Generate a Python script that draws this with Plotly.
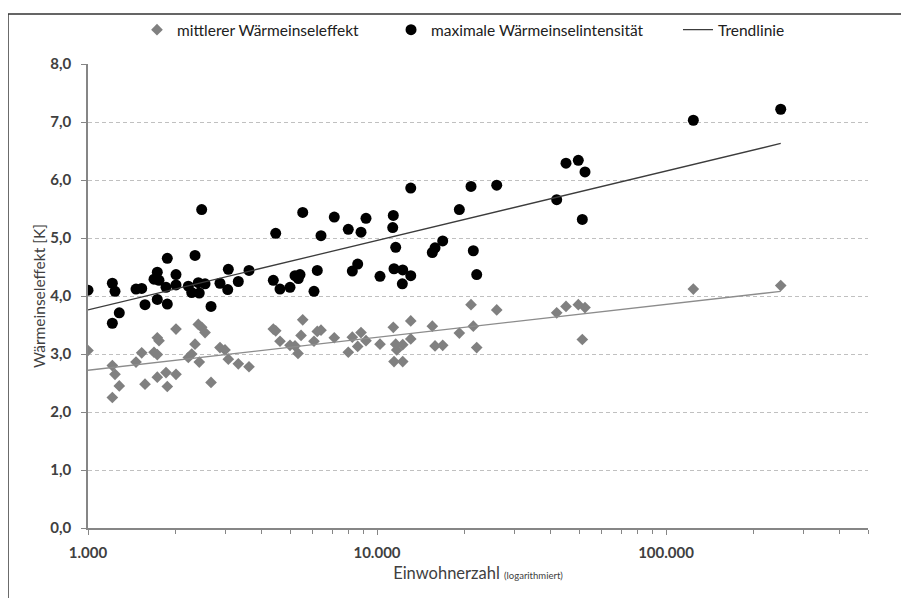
import plotly.graph_objects as go

# ---- data ----
max_x = [1000, 1214, 1240, 1214, 1283, 1466, 1534, 1575, 1692, 1737, 1761, 1737, 1862, 1881, 1881,
         2016, 2016, 2224, 2285, 2346, 2408, 2427, 2474, 2541, 2665, 2862, 3044, 3059, 3312, 3607,
         4377, 4462, 4617, 5000, 5204, 5342, 5415, 5533, 6053, 6214, 6401, 7115, 7955, 8214, 8575,
         8804, 9161, 10242, 11334, 11388, 11452, 11608, 12236, 12275, 13085, 13085, 15539, 15878,
         16880, 19270, 21150, 21540, 22130, 25960, 41860, 45080, 49720, 51340, 52450, 124330, 249450]
max_y = [4.10, 4.22, 4.08, 3.53, 3.71, 4.12, 4.13, 3.85, 4.29, 4.41, 4.27, 3.94, 4.15, 4.65, 3.86,
         4.37, 4.19, 4.17, 4.06, 4.70, 4.23, 4.05, 5.49, 4.21, 3.82, 4.22, 4.11, 4.46, 4.25, 4.44,
         4.27, 5.08, 4.12, 4.15, 4.35, 4.30, 4.37, 5.44, 4.08, 4.44, 5.04, 5.36, 5.15, 4.43, 4.55,
         5.10, 5.34, 4.34, 5.18, 5.39, 4.47, 4.84, 4.21, 4.45, 4.35, 5.86, 4.75, 4.83,
         4.95, 5.49, 5.89, 4.78, 4.37, 5.91, 5.66, 6.29, 6.34, 5.32, 6.14, 7.03, 7.22]

mean_x = [1000, 1214, 1240, 1283, 1214, 1466, 1534, 1575, 1692, 1737, 1761, 1737, 1737, 1862, 1881,
          2016, 2016, 2224, 2285, 2346, 2408, 2427, 2474, 2541, 2665, 2862, 2979, 3059, 3312, 3607,
          4377, 4462, 4617, 5000, 5204, 5330, 5460, 5533, 6053, 6214, 6401, 7115, 7955, 8214, 8575,
          8804, 9161, 10242, 11388, 11452, 11608, 11702, 12275, 12275, 13085, 13085, 15539, 15878,
          16880, 19270, 21150, 21540, 22130, 25960, 41860, 45080, 49720, 51340, 52450, 124330, 249450]
mean_y = [3.06, 2.80, 2.65, 2.45, 2.25, 2.86, 3.02, 2.48, 3.03, 3.28, 3.23, 2.99, 2.60, 2.68, 2.44,
          3.43, 2.65, 2.94, 3.00, 3.17, 3.51, 2.86, 3.46, 3.37, 2.51, 3.11, 3.07, 2.91, 2.83, 2.78,
          3.43, 3.40, 3.22, 3.15, 3.14, 3.01, 3.32, 3.59, 3.22, 3.39, 3.41, 3.28, 3.03, 3.29, 3.13,
          3.37, 3.23, 3.17, 3.46, 2.87, 3.17, 3.07, 3.16, 2.87, 3.57, 3.26, 3.48, 3.14,
          3.15, 3.36, 3.85, 3.48, 3.11, 3.76, 3.71, 3.82, 3.85, 3.25, 3.80, 4.12, 4.18]

trend_x = [1000, 249450]
trend_max = [3.76, 6.63]
trend_mean = [2.72, 4.08]

x_tickvals = [1000, 10000, 100000]
x_ticktext = ["1.000", "10.000", "100.000"]
y_tickvals = [0, 1, 2, 3, 4, 5, 6, 7, 8]

FONT = "Lato, 'Open Sans', sans-serif"
TXT = "#404040"
LEG_FONT = dict(family=FONT, size=15.5, color="#202020")

fig = go.Figure()
fig.add_trace(go.Scatter(x=mean_x, y=mean_y, mode="markers", name="mittlerer Wärmeinseleffekt",
                         legend="legend",
                         marker=dict(symbol="diamond", size=9, color="#808080")))
fig.add_trace(go.Scatter(x=max_x, y=max_y, mode="markers", name="maximale Wärmeinselintensität",
                         legend="legend2",
                         marker=dict(symbol="circle", size=11, color="#000000")))
fig.add_trace(go.Scatter(x=trend_x, y=trend_max, mode="lines", name="Trendlinie",
                         legend="legend3",
                         line=dict(color="#3c3c3c", width=1.3)))
fig.add_trace(go.Scatter(x=trend_x, y=trend_mean, mode="lines", name="Trendlinie", showlegend=False,
                         line=dict(color="#8c8c8c", width=1.3)))

leg_common = dict(orientation="h", xanchor="left", y=1.073, yanchor="middle",
                  font=LEG_FONT, itemwidth=30, bgcolor="rgba(0,0,0,0)")

fig.update_layout(
    width=909, height=598,
    margin=dict(l=80, r=49, t=56, b=78, autoexpand=False),
    paper_bgcolor="white", plot_bgcolor="white",
    separators=",.",
    font=dict(family=FONT, size=13, color=TXT),
    showlegend=True,
    legend=dict(x=0.0628, **leg_common),
    legend2=dict(x=0.3885, **leg_common),
    legend3=dict(x=0.7564, **leg_common),
    xaxis=dict(type="log", range=[3, 5.69897], tickvals=x_tickvals, ticktext=x_ticktext,
               showgrid=False, showline=True, linecolor="#868686", linewidth=1.5,
               ticks="outside", ticklen=5, tickcolor="#868686", automargin=False,
               ticklabelstandoff=5,
               minor=dict(ticks="outside", ticklen=4, tickcolor="#868686", dtick="D1", showgrid=False),
               tickfont=dict(family=FONT, size=15, color=TXT, weight="bold"),
               title=dict(text="Einwohnerzahl <span style='font-size:9.5px'>(logarithmiert)</span>",
                          font=dict(family=FONT, size=16.5, color=TXT), standoff=8),
               zeroline=False),
    yaxis=dict(range=[0, 8], tickvals=y_tickvals, tickformat=".1f",
               showgrid=True, gridcolor="#c0c0c0", griddash="4px,3px", gridwidth=1,
               showline=True, linecolor="#868686", linewidth=1.5,
               ticks="outside", ticklen=5, tickcolor="#868686", automargin=False,
               ticklabelstandoff=7,
               tickfont=dict(family=FONT, size=15, color=TXT, weight="bold"),
               title=dict(text="Wärmeinseleffekt [K]", font=dict(family=FONT, size=15.5, color=TXT),
                          standoff=1),
               zeroline=False),
    shapes=[dict(type="rect", xref="paper", yref="paper", x0=-0.1026, x1=1.07, y0=-0.18, y1=1.108,
                 line=dict(color="#333333", width=1.5), fillcolor="rgba(0,0,0,0)", layer="above")],
)

fig.write_html("out.html")
